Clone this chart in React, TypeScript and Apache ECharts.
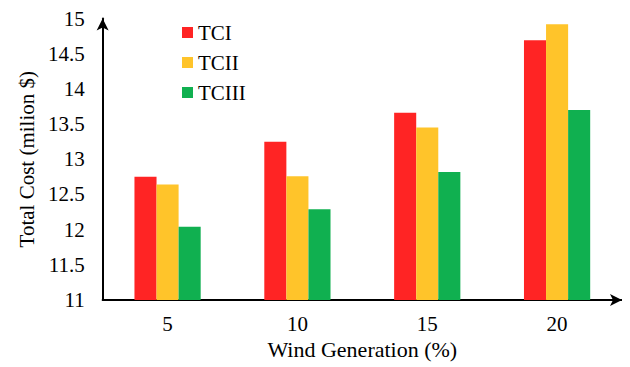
import React, { useEffect, useRef } from "react";
import * as echarts from "echarts";

const categories = ["5", "10", "15", "20"];
const tc1 = [12.75, 13.25, 13.66, 14.69];
const tc2 = [12.64, 12.76, 13.45, 14.92];
const tc3 = [12.04, 12.29, 12.82, 13.7];
const seriesNames = ["TCI", "TCII", "TCIII"];
const colors = ["#FF2424", "#FFC42A", "#10B050"];

const FONT = "Liberation Serif";

const richT = { fontFamily: FONT, fontSize: 21, color: "#000" };

export default function App() {
  const ref = useRef<HTMLDivElement>(null);
  useEffect(() => {
    if (!ref.current) return;
    const chart = echarts.init(ref.current, undefined, { renderer: "svg" });
    const data = [tc1, tc2, tc3];
    chart.setOption({
      animation: false,
      backgroundColor: "#ffffff",
      textStyle: { fontFamily: FONT },
      grid: { left: 92, right: 8, top: 10, bottom: 67, containLabel: false },
      legend: {
        orient: "vertical",
        left: 169,
        top: 9,
        itemWidth: 11,
        itemHeight: 11,
        itemGap: 9,
        icon: "rect",
        formatter: "{t|{name}}",
        textStyle: { fontFamily: FONT, fontSize: 21, color: "#000", rich: { t: richT } },
        data: seriesNames,
      },
      xAxis: {
        type: "category",
        data: categories,
        name: "Wind Generation (%)",
        nameLocation: "middle",
        nameGap: 26,
        nameTextStyle: { fontFamily: FONT, fontSize: 22, color: "#000" },
        axisLine: {
          lineStyle: { color: "#000", width: 2 },
          symbol: ["none", "arrow"],
          symbolSize: [9, 12],
        },
        axisTick: { show: false },
        axisLabel: {
          fontFamily: FONT,
          fontSize: 21,
          color: "#000",
          margin: 13,
          formatter: "{t|{value}}",
          rich: { t: richT },
        },
      },
      yAxis: {
        type: "value",
        min: 11,
        max: 15,
        interval: 0.5,
        name: "Total Cost (milion $)",
        nameLocation: "middle",
        nameGap: 62,
        nameTextStyle: { fontFamily: FONT, fontSize: 21, color: "#000" },
        axisLine: {
          show: true,
          lineStyle: { color: "#000", width: 2 },
          symbol: ["none", "arrow"],
          symbolSize: [9, 12],
        },
        axisTick: { show: false },
        splitLine: { show: false },
        axisLabel: {
          fontFamily: FONT,
          fontSize: 21,
          color: "#000",
          margin: 18,
          formatter: "{t|{value}}",
          rich: { t: richT },
        },
      },
      series: seriesNames.map((n, i) => ({
        name: n,
        type: "bar",
        data: data[i],
        barGap: "0%",
        barCategoryGap: "49%",
        itemStyle: { color: colors[i] },
      })),
    });
    return () => chart.dispose();
  }, []);
  return <div ref={ref} style={{ width: 622, height: 359 }} />;
}
